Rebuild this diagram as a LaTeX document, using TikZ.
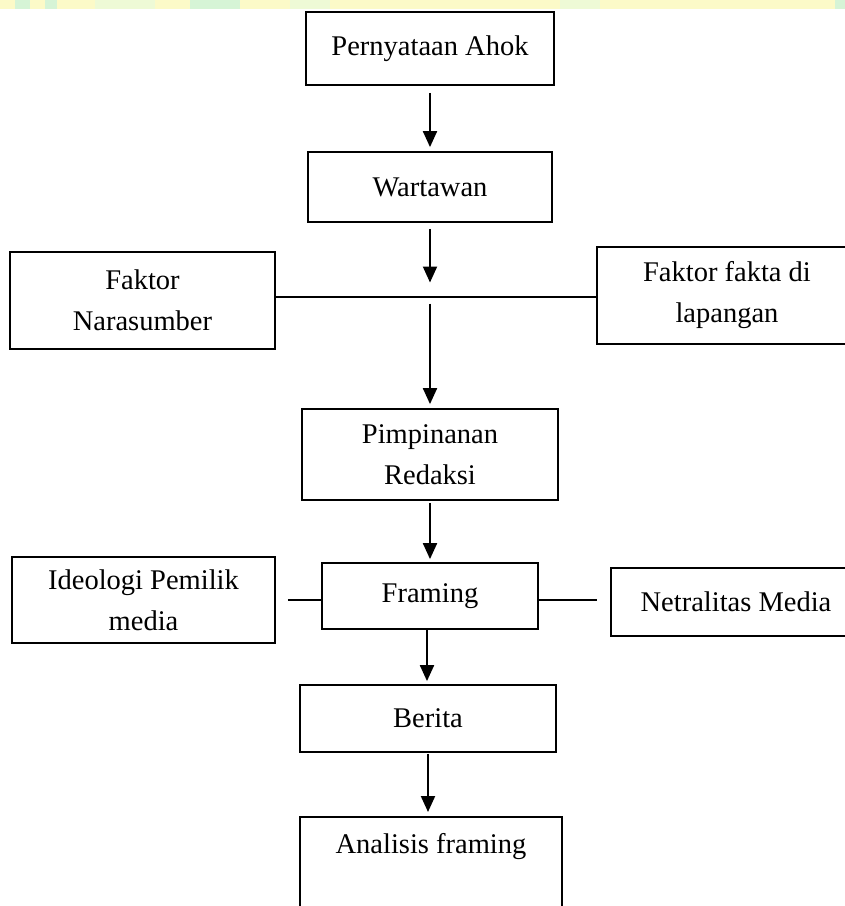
\documentclass[tikz,border=0pt]{standalone}
\usepackage{fontspec}
\setmainfont{Liberation Serif}
\usetikzlibrary{arrows.meta}
\definecolor{stripY}{RGB}{252,250,200}
\definecolor{stripG}{RGB}{214,244,214}
\definecolor{stripL}{RGB}{238,250,214}
\tikzset{
  box/.style={draw=black, line width=1.8pt, fill=white, align=center, inner sep=0pt,
    font=\fontsize{28.5}{41}\selectfont},
  txt/.style={align=center, inner sep=0pt, font=\fontsize{28.5}{41}\selectfont},
  arr/.style={line width=2pt, -{Triangle[length=16pt,width=14pt]}},
  link/.style={line width=2pt}
}
\begin{document}
\begin{tikzpicture}[x=1pt,y=-1pt]
\useasboundingbox (0,0) rectangle (845,906);
\clip (0,0) rectangle (845,906);
% watermark strip
\fill[stripY] (0,0) rectangle (845,9);
\fill[stripG] (15,0) rectangle (30,9);
\fill[stripG] (45,0) rectangle (57,9);
\fill[stripL] (95,0) rectangle (155,9);
\fill[stripG] (190,0) rectangle (240,9);
\fill[stripL] (290,0) rectangle (330,9);
\fill[stripL] (560,0) rectangle (600,9);
\fill[stripG] (835,0) rectangle (845,9);

% boxes
\node[box, minimum width=248, minimum height=73] (ahok) at (430,48.5) {Pernyataan Ahok};
\node[box, minimum width=244, minimum height=70] (wart) at (430,187) {Wartawan};
\node[box, minimum width=265, minimum height=97] (nara) at (142.5,300.5) {Faktor\\Narasumber};
\node[box, minimum width=260, minimum height=97] (fakta) at (727,295.5) {Faktor fakta di\\lapangan};
\node[box, minimum width=256, minimum height=91] (pimp) at (430,454.5) {Pimpinanan\\Redaksi};
\node[box, minimum width=263, minimum height=86] (ideo) at (143.5,600) {Ideologi Pemilik\\media};
\node[box, minimum width=216, minimum height=66] (fram) at (430,596) {Framing};
\node[box, minimum width=250, minimum height=68] (netr) at (736,602) {Netralitas Media};
\node[box, minimum width=256, minimum height=67] (beri) at (428,718.5) {Berita};
\node[box, minimum width=262, minimum height=110, anchor=north] (anal) at (431,816) {};
\node[txt] (analt) at (431,847) {Analisis framing};

% junctions
\coordinate (j) at (430,296.5);
\coordinate (k) at (430,600);

% connectors
\draw[arr] ([yshift=-7pt]ahok.south) -- ([yshift=4pt]wart.north);
\draw[arr] ([yshift=-6pt]wart.south) -- ([yshift=14pt]j);
\draw[link] (nara.east |- j) -- (fakta.west |- j);
\draw[arr] ([yshift=-7pt]j) -- ([yshift=4pt]pimp.north);
\draw[arr] ([yshift=-2pt]pimp.south) -- ([yshift=3pt]fram.north);
\draw[link] ([xshift=12pt]ideo.east |- k) -- (fram.west |- k);
\draw[link] (fram.east |- k) -- ([xshift=-13pt]netr.west |- k);
\draw[arr] ([xshift=-3pt]fram.south) -- ([xshift=-3pt,yshift=3pt]fram.south |- beri.north);
\draw[arr] ([yshift=-1pt]beri.south) -- ([yshift=4pt]beri.south |- anal.north);
\end{tikzpicture}
\end{document}
